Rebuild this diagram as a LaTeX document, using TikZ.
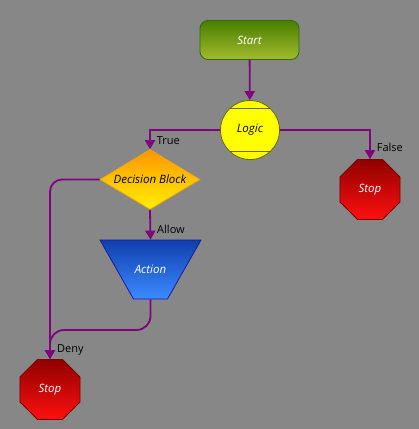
\documentclass[tikz,border=0pt]{standalone}
\usepackage{fontspec}
\setmainfont{Open Sans}
\usetikzlibrary{shapes.geometric,arrows.meta,calc}
\definecolor{bg}{HTML}{878787}
\definecolor{conncol}{HTML}{800080}
\definecolor{startTop}{HTML}{4A7F00}
\definecolor{startBot}{HTML}{A2BA2E}
\definecolor{startLine}{HTML}{2E6B00}
\definecolor{logicFill}{HTML}{FFFF00}
\definecolor{logicLine}{HTML}{6A6A10}
\definecolor{decTop}{HTML}{FF9500}
\definecolor{decBot}{HTML}{FFF000}
\definecolor{decLine}{HTML}{F0A800}
\definecolor{actTop}{HTML}{0F3FAE}
\definecolor{actBot}{HTML}{3C8BFF}
\definecolor{actLine}{HTML}{1A1AA0}
\definecolor{stopTop}{HTML}{900000}
\definecolor{stopBot}{HTML}{FF1010}
\definecolor{stopLine}{HTML}{7A0000}
\tikzset{
  shapetext/.style={font=\fontsize{11.5}{13}\selectfont\itshape, inner sep=0pt},
  startbox/.style={shapetext, rectangle, rounded corners=8pt, minimum width=99pt, minimum height=39pt,
    top color=startTop, bottom color=startBot, draw=startLine, line width=0.8pt, text=white},
  logicbox/.style={shapetext, circle, minimum size=59pt, fill=logicFill, draw=logicLine, line width=0.8pt, text=black},
  decbox/.style={shapetext, diamond, minimum width=100pt, minimum height=60pt,
    top color=decTop, bottom color=decBot, draw=decLine, line width=0.8pt, text=black},
  actbox/.style={shapetext, trapezium, shape border rotate=180, trapezium left angle=60.4, trapezium right angle=60.4,
    inner xsep=17pt, inner ysep=29.5pt,
    top color=actTop, bottom color=actBot, draw=actLine, line width=0.8pt, text=white},
  stopbox/.style={shapetext, regular polygon, regular polygon sides=8, minimum size=65pt,
    top color=stopTop, bottom color=stopBot, draw=stopLine, line width=0.8pt, text=white},
  conn/.style={draw=conncol, line width=1.8pt, -{Triangle[length=9pt,width=10pt]}},
  lbl/.style={font=\fontsize{11}{13}\selectfont, text=black, inner sep=0pt}
}
\begin{document}
\begin{tikzpicture}[x=1pt,y=-1pt]
\fill[bg] (0,0) rectangle (419,429);
\useasboundingbox (0,0) rectangle (419,429);
\node[startbox] (start) at (249.5,40) {\makebox[0pt]{Start}};
\node[logicbox] (logic) at (250,130) {\makebox[0pt]{Logic}};
\draw[logicLine, line width=0.8pt] ($(logic.center)+(-20.5,-21.5)$) -- ($(logic.center)+(20.5,-21.5)$);
\draw[logicLine, line width=0.8pt] ($(logic.center)+(-20.5,21.5)$) -- ($(logic.center)+(20.5,21.5)$);
\node[decbox] (dec) at (150,179.5) {\makebox[0pt]{Decision Block}};
\node[actbox] (act) at (150.5,269.5) {\makebox[0pt]{\smash{\raisebox{-4.2pt}{Action}}}};
\node[stopbox] (stopR) at (370,189.5) {\makebox[0pt]{Stop}};
\node[stopbox] (stopL) at (50,389.5) {\makebox[0pt]{Stop}};
\coordinate (cornerL) at (50,330);
\draw[conn] (start) -- (logic);
\draw[conn] (logic.west) -| (dec.north) node[lbl, pos=0.78, anchor=west, xshift=6pt] {True};
\draw[conn] (logic.east) -| (stopR.north) node[lbl, pos=0.8, anchor=west, xshift=6pt] {False};
\draw[conn] (dec.south) -- (act.north) node[lbl, pos=0.65, anchor=west, xshift=6pt] {Allow};
\draw[conn, rounded corners=12pt] (dec.west) -| (stopL.north);
\draw[conn, rounded corners=14pt] (act.south) |- (cornerL) -- (stopL.north);
\node[lbl, anchor=west] (deny) at (57,350) {Deny};
\end{tikzpicture}
\end{document}
